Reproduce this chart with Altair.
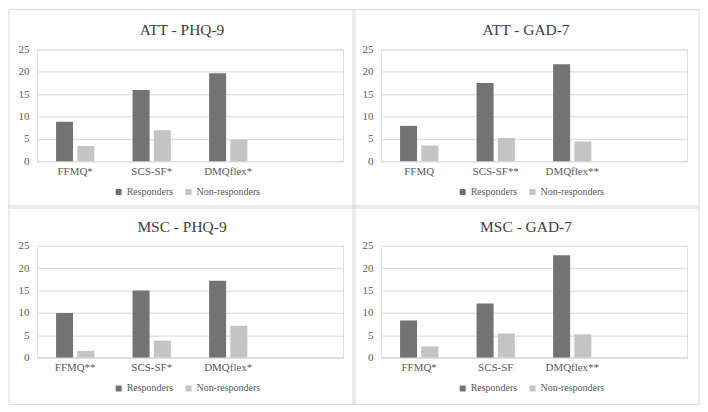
import altair as alt
import pandas as pd

# ---- data ----
panel_titles = ["ATT - PHQ-9", "ATT - GAD-7", "MSC - PHQ-9", "MSC - GAD-7"]
measure_labels = [
    ["FFMQ*", "SCS-SF*", "DMQflex*"],
    ["FFMQ", "SCS-SF**", "DMQflex**"],
    ["FFMQ**", "SCS-SF*", "DMQflex*"],
    ["FFMQ*", "SCS-SF", "DMQflex**"],
]
responders = [
    [8.8, 15.9, 19.7],
    [7.9, 17.5, 21.7],
    [10.0, 15.0, 17.2],
    [8.3, 12.1, 22.9],
]
non_responders = [
    [3.4, 6.9, 4.8],
    [3.5, 5.2, 4.4],
    [1.5, 3.8, 7.1],
    [2.5, 5.4, 5.2],
]
groups = ["Responders", "Non-responders"]
y_ticks = [0, 5, 10, 15, 20, 25]

# ---- style ----
FONT = "Liberation Serif"
DARK = "#737373"
LIGHT = "#c4c4c4"
GRID = "#d9d9d9"
TEXT = "#595959"
TITLE = "#404040"
W, H = 307, 112


def make_panel(i):
    rows = []
    for j, lab in enumerate(measure_labels[i]):
        rows.append({"measure": lab, "group": groups[0], "value": responders[i][j]})
        rows.append({"measure": lab, "group": groups[1], "value": non_responders[i][j]})
    df = pd.DataFrame(rows)
    domain = measure_labels[i] + [" "]

    bars = alt.Chart(df).mark_bar().encode(
        x=alt.X(
            "measure:N",
            scale=alt.Scale(domain=domain, paddingInner=0.5, paddingOuter=0.25),
            axis=alt.Axis(
                title=None, labelAngle=0, ticks=False, domain=True,
                domainColor=GRID, labelPadding=4, labelFontSize=11,
                labelColor=TEXT, labelFont=FONT, grid=False,
            ),
        ),
        xOffset=alt.XOffset(
            "group:N",
            scale=alt.Scale(domain=groups, paddingInner=0.2, paddingOuter=0),
        ),
        y=alt.Y(
            "value:Q",
            scale=alt.Scale(domain=[0, 25], nice=False),
            axis=alt.Axis(
                title=None, values=y_ticks, ticks=False, domain=False,
                grid=True, gridColor=GRID, gridWidth=1, labelPadding=8,
                labelFontSize=11, labelColor=TEXT, labelFont=FONT,
            ),
        ),
        color=alt.Color(
            "group:N",
            scale=alt.Scale(domain=groups, range=[DARK, LIGHT]),
            legend=alt.Legend(
                orient="none", legendX=77, legendY=138, direction="horizontal",
                title=None, symbolType="square", symbolSize=36,
                symbolStrokeWidth=0, labelFontSize=10, labelFont=FONT,
                labelColor=TEXT, columnPadding=10, padding=0, labelOffset=3,
            ),
        ),
    )

    frame = alt.Chart(pd.DataFrame({"k": [0]})).mark_rect(
        fillOpacity=0, stroke=GRID, strokeWidth=1
    ).encode(
        x=alt.value(-28), x2=alt.value(W + 12),
        y=alt.value(-40), y2=alt.value(H + 47),
    )

    title = alt.Chart(pd.DataFrame({"t": [panel_titles[i]]})).mark_text(
        font=FONT, fontSize=15.5, color=TITLE, baseline="alphabetic", align="center"
    ).encode(
        text="t:N", x=alt.value((W + 12 - 28) / 2), y=alt.value(-14),
    )

    return alt.layer(frame, bars, title).properties(width=W, height=H)


panels = [make_panel(i) for i in range(4)]

chart = (
    alt.concat(*panels, columns=2, spacing=-4)
    .resolve_scale(x="independent", xOffset="independent", color="independent")
    .resolve_legend(color="independent")
    .properties(padding=0)
    .configure_view(strokeWidth=0)
    .configure(font=FONT)
    .configure_axis(labelFont=FONT)
    .configure_legend(labelFont=FONT)
)

chart.save("out.html", embed_options={"renderer": "svg", "actions": False})
